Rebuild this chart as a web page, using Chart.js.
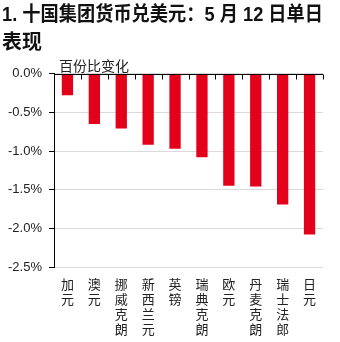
<!DOCTYPE html>
<html>
<head>
<meta charset="utf-8">
<script src="https://cdn.jsdelivr.net/npm/chart.js@4"></script>
<style>
  html, body { margin: 0; padding: 0; background: #fff; }
  #wrap { width: 340px; height: 342px; }
</style>
</head>
<body>
<div id="wrap"><canvas id="fxChart"></canvas></div>
<script>
// G10 currencies vs USD, daily change on 12 May
const categories = ['加元', '澳元', '挪威克朗', '新西兰元', '英镑', '瑞典克朗', '欧元', '丹麦克朗', '瑞士法郎', '日元'];
const changes = [-0.28, -0.65, -0.71, -0.92, -0.97, -1.08, -1.45, -1.46, -1.69, -2.08];
const yTicks = [0, -0.5, -1.0, -1.5, -2.0, -2.5];

const latin = '"Liberation Sans", Arial, "Noto Sans CJK SC", sans-serif';

// black zero line with small tick marks between categories, plus unit label
const zeroAxis = {
    id: 'zeroAxis',
    afterDatasetsDraw(chart) {
        const { ctx, chartArea } = chart;
        const y0 = Math.round(chart.scales.y.getPixelForValue(0)) + 0.5;
        const n = categories.length;
        const step = (chartArea.right - chartArea.left) / n;
        ctx.save();
        ctx.strokeStyle = '#000';
        ctx.lineWidth = 1;
        ctx.beginPath();
        ctx.moveTo(chartArea.left, y0);
        ctx.lineTo(chartArea.right, y0);
        for (let i = 1; i <= n; i++) {
            const x = Math.round(chartArea.left + i * step) + 0.5;
            ctx.moveTo(x, y0);
            ctx.lineTo(x, y0 + 5);
        }
        ctx.stroke();
        ctx.fillStyle = '#222';
        ctx.font = '14px "Noto Sans CJK SC", sans-serif';
        ctx.textBaseline = 'bottom';
        ctx.fillText('百份比变化', chartArea.left + 5, chartArea.top - 1);
        ctx.restore();
    }
};

new Chart(document.getElementById('fxChart'), {
    type: 'bar',
    data: {
        labels: categories,
        datasets: [{
            data: changes,
            backgroundColor: '#e3001b',
            barPercentage: 0.42,
            categoryPercentage: 1.0
        }]
    },
    plugins: [zeroAxis],
    options: {
        responsive: true,
        maintainAspectRatio: false,
        animation: false,
        layout: { padding: { left: 2, right: 17, top: 2, bottom: 0 } },
        plugins: {
            legend: { display: false },
            tooltip: { enabled: false },
            title: {
                display: true,
                align: 'start',
                text: ['1. 十国集团货币兑美元：5 月 12 日单日', '表现'],
                color: '#111',
                font: { family: latin, size: 19.9, weight: 'bold', lineHeight: 1.4 },
                padding: { top: 0, bottom: 16 }
            }
        },
        scales: {
            x: {
                afterFit: (scale) => { scale.height = 75; },
                grid: { display: false },
                border: { display: false },
                ticks: {
                    maxRotation: 0,
                    autoSkip: false,
                    padding: 2,
                    color: '#222',
                    font: { family: '"Noto Sans CJK SC", sans-serif', size: 13, lineHeight: '15px' },
                    callback: (v, i) => categories[i].split('')
                }
            },
            y: {
                min: -2.5,
                max: 0,
                afterFit: (scale) => { scale.width = 52; },
                afterBuildTicks: (scale) => { scale.ticks = yTicks.map(v => ({ value: v })); },
                grid: { color: '#d9d9d9', tickColor: '#000', tickLength: 5 },
                border: { color: '#000' },
                ticks: {
                    padding: 7,
                    color: '#222',
                    font: { family: latin, size: 13 },
                    callback: (v) => v.toFixed(1) + '%'
                }
            }
        }
    }
});
</script>
</body>
</html>
